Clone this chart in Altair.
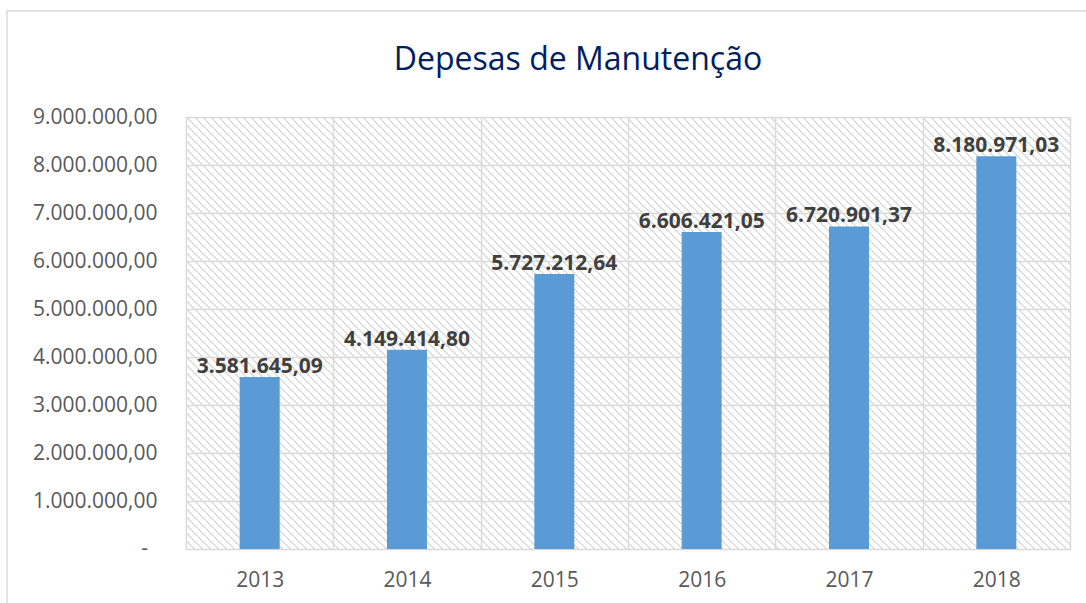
import altair as alt
import pandas as pd

# ---- data ----
years = ["2013", "2014", "2015", "2016", "2017", "2018"]
values = [3581645.09, 4149414.80, 5727212.64, 6606421.05, 6720901.37, 8180971.03]
y_ticks = [0, 1000000, 2000000, 3000000, 4000000, 5000000, 6000000, 7000000, 8000000, 9000000]
zero_label = ["-"]
title_text = "Depesas de Manutenção"


def br(v):
    s = f"{v:,.2f}"
    return s.replace(",", "_").replace(".", ",").replace("_", ".")


df = pd.DataFrame({"ano": years, "valor": values, "rotulo": [br(v) for v in values]})

# ---- layout ----
W, H = 884, 432
PAD_L, PAD_T = 186, 117
FONT = "Open Sans"

# hatch pattern as a linear gradient of hard stops (style only)
dxn = W / H
D = H * (dxn ** 2 + 1)
M = 0.05   # margin in gradient space
P = 8.0    # horizontal period in px
LW = 1.2   # line width in px (horizontal)
n = int((W + H) / P) + 2
stops = []
gray = "#dcdcdc"
clear = "rgba(255,255,255,0)"
for k in range(-1, n):
    a = (k * P + M * D) / D
    b = (k * P + LW + M * D) / D
    c = (k * P + P + M * D) / D
    if a > 1:
        break
    stops += [
        alt.GradientStop(offset=max(0, min(a, 1)), color=gray),
        alt.GradientStop(offset=max(0, min(b, 1)), color=gray),
        alt.GradientStop(offset=max(0, min(b, 1)), color=clear),
        alt.GradientStop(offset=max(0, min(c, 1)), color=clear),
    ]
hatch_grad = alt.LinearGradient(
    gradient="linear", stops=stops,
    x1=-M * dxn, y1=1 + M, x2=-M * dxn + dxn, y2=M,
)

base = alt.Chart(df)

x_enc = alt.X(
    "ano:N",
    sort=years,
    title=None,
    axis=alt.Axis(
        grid=True, tickBand="extent", gridColor="#d9d9d9", gridWidth=1.5,
        domain=False, ticks=False, labelAngle=0, labelFont=FONT, labelFontSize=21,
        labelColor="#595959", labelPadding=20, labelBaseline="top",
    ),
    scale=alt.Scale(paddingInner=0, paddingOuter=0),
)
y_enc = alt.Y(
    "valor:Q",
    title=None,
    scale=alt.Scale(domain=[0, 9000000], nice=False),
    axis=alt.Axis(
        values=y_ticks, grid=True, gridColor="#d9d9d9", gridWidth=1.5,
        domain=False, ticks=False, labelFont=FONT, labelFontSize=21,
        labelColor="#595959", labelPadding=29,
        labelExpr="datum.value == 0 ? '' : format(datum.value / 1000000, 'd') + '.000.000,00'",
    ),
)

hatch = alt.Chart(pd.DataFrame({"k": [0]})).mark_rect(fill=hatch_grad, stroke=None).encode(
    x=alt.value(0), x2=alt.value(W), y=alt.value(0), y2=alt.value(H)
)

frame = alt.Chart(pd.DataFrame({"k": [0]})).mark_rect(
    fill=None, stroke="#d9d9d9", strokeWidth=1.5
).encode(
    x=alt.value(7 - PAD_L), x2=alt.value(1200 - PAD_L),
    y=alt.value(11 - PAD_T), y2=alt.value(700 - PAD_T),
)

bars = base.mark_bar(color="#5b9bd5", size=40).encode(x=x_enc, y=y_enc)

labels = base.mark_text(
    font=FONT, fontSize=21, fontWeight="bold", color="#404040",
    baseline="alphabetic", dy=-4,
).encode(x=alt.X("ano:N", sort=years), y="valor:Q", text="rotulo:N")

zero = alt.Chart(pd.DataFrame({"valor": [y_ticks[0]], "t": zero_label})).mark_text(
    font=FONT, fontSize=21, color="#595959", align="right", baseline="middle"
).encode(x=alt.value(148 - PAD_L), y="valor:Q", text="t:N")

title = alt.Chart(pd.DataFrame({"t": [title_text]})).mark_text(
    font=FONT, fontSize=32, color="#002060", baseline="alphabetic", align="center"
).encode(x=alt.value(578 - PAD_L), y=alt.value(70 - PAD_T), text="t:N")

chart = alt.layer(frame, hatch, bars, labels, zero, title).properties(
    width=W, height=H,
    autosize=alt.AutoSizeParams(type="none"),
    padding={"left": PAD_L, "top": PAD_T, "right": 1086 - PAD_L - W, "bottom": 603 - PAD_T - H},
    background="white",
).configure_view(stroke=None)

chart.save("out.html", embed_options={"renderer": "svg", "actions": False})
